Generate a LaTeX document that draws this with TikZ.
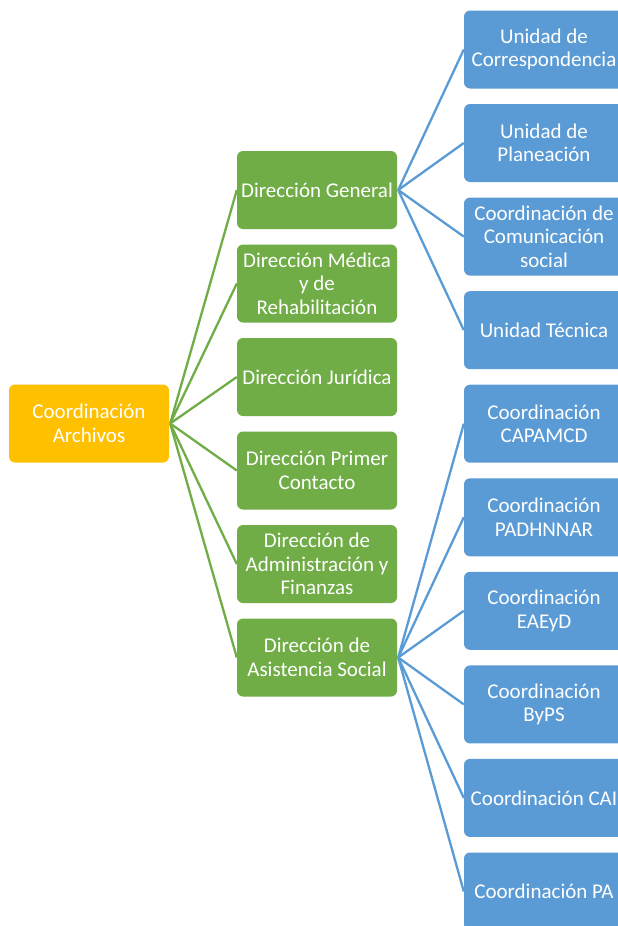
\documentclass[tikz,border=0pt]{standalone}
\usepackage{fontspec}
\setmainfont{Carlito}
\usetikzlibrary{backgrounds}
\definecolor{orgroot}{HTML}{FFC000}
\definecolor{orggreen}{HTML}{70AD47}
\definecolor{orgblue}{HTML}{5B9BD5}
\tikzset{
  unitbox/.style={rounded corners=6pt, minimum width=160pt, minimum height=78pt,
    inner sep=2pt, align=center, text=white,
    font=\fontsize{21}{23.5}\selectfont},
  rootbox/.style={unitbox, fill=orgroot},
  dirbox/.style={unitbox, fill=orggreen},
  subbox/.style={unitbox, fill=orgblue},
  greenlink/.style={draw=orggreen, line width=2.3pt},
  bluelink/.style={draw=orgblue, line width=2.3pt}
}
\begin{document}
\begin{tikzpicture}[x=1pt, y=-1pt]
  \path[use as bounding box, clip] (0,0) rectangle (618,926);

  % root
  \node[rootbox] (root) at (89,423.5) {Coordinación\\Archivos};

  % directions
  \node[dirbox] (dg)  at (317,190)   {Dirección General};
  \node[dirbox] (dm)  at (317,283.5) {Dirección Médica\\y de\\Rehabilitación};
  \node[dirbox] (dj)  at (317,377)   {Dirección Jurídica};
  \node[dirbox] (dpc) at (317,470.5) {Dirección Primer\\Contacto};
  \node[dirbox] (daf) at (317,564)   {Dirección de\\Administración y\\Finanzas};
  \node[dirbox] (das) at (317,657.5) {Dirección de\\Asistencia Social};

  % units
  \node[subbox] (u1)  at (544,49.5)  {Unidad de\\Correspondencia};
  \node[subbox] (u2)  at (544,143)   {Unidad de\\Planeación};
  \node[subbox] (u3)  at (544,236.6) {Coordinación de\\Comunicación\\social};
  \node[subbox] (u4)  at (544,330.2) {Unidad Técnica};
  \node[subbox] (u5)  at (544,423.7) {Coordinación\\CAPAMCD};
  \node[subbox] (u6)  at (544,517.3) {Coordinación\\PADHNNAR};
  \node[subbox] (u7)  at (544,610.8) {Coordinación\\EAEyD};
  \node[subbox] (u8)  at (544,704.4) {Coordinación\\ByPS};
  \node[subbox] (u9)  at (544,797.9) {Coordinación CAI};
  \node[subbox] (u10) at (544,891.5) {Coordinación PA};

  % connectors, kept behind the boxes
  \begin{scope}[on background layer]
    \fill[white] (0,0) rectangle (618,926);
    \foreach \d in {dg,dm,dj,dpc,daf,das}
      \path[greenlink] ([xshift=1pt]root.east) -- (\d.west);
    \foreach \u in {u1,u2,u3,u4}
      \path[bluelink] ([xshift=1pt]dg.east) -- (\u.west);
    \foreach \u in {u5,u6,u7,u8,u9,u10}
      \path[bluelink] ([xshift=1pt]das.east) -- (\u.west);
  \end{scope}
\end{tikzpicture}
\end{document}
